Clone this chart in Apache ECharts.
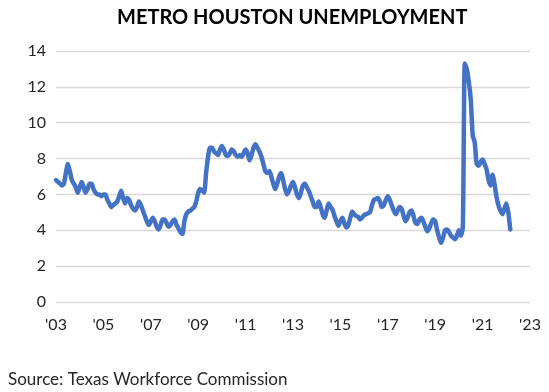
<!DOCTYPE html>
<html><head><meta charset="utf-8">
<script src="https://cdn.jsdelivr.net/npm/echarts@6/dist/echarts.min.js"></script>
<style>html,body{margin:0;padding:0;background:#fff;}#c{width:549px;height:392px;}</style>
</head><body><div id="c"></div>
<script>
const titleText = "METRO HOUSTON UNEMPLOYMENT";
const sourceText = "Source: Texas Workforce Commission";
const startYear = 2003; // monthly series, first point = Jan 2003
const yTicks = [0, 2, 4, 6, 8, 10, 12, 14];
const xTickYears = [2003, 2005, 2007, 2009, 2011, 2013, 2015, 2017, 2019, 2021, 2023];
const rate2003 = [6.8, 6.7, 6.6, 6.5, 6.6, 7.2, 7.7, 7.3, 6.8, 6.6, 6.4, 6.1];
const rate2004 = [6.4, 6.7, 6.4, 6.1, 6.3, 6.6, 6.6, 6.3, 6.1, 6.0, 6.0, 5.9];
const rate2005 = [6.0, 6.0, 5.7, 5.5, 5.3, 5.4, 5.5, 5.6, 5.9, 6.2, 5.8, 5.5];
const rate2006 = [5.8, 5.7, 5.4, 5.2, 5.1, 5.3, 5.6, 5.4, 5.1, 4.8, 4.5, 4.3];
const rate2007 = [4.5, 4.7, 4.5, 4.2, 4.05, 4.3, 4.6, 4.6, 4.4, 4.2, 4.3, 4.5];
const rate2008 = [4.6, 4.3, 4.1, 3.9, 3.8, 4.5, 4.9, 5.05, 5.1, 5.2, 5.3, 5.6];
const rate2009 = [6.1, 6.3, 6.2, 6.1, 7.2, 8.1, 8.6, 8.6, 8.4, 8.3, 8.2, 8.5];
const rate2010 = [8.7, 8.5, 8.2, 8.15, 8.3, 8.5, 8.4, 8.2, 8.1, 8.2, 8.1, 8.3];
const rate2011 = [8.5, 8.3, 7.9, 8.2, 8.6, 8.8, 8.6, 8.4, 8.1, 7.7, 7.3, 7.2];
const rate2012 = [7.3, 7.0, 6.6, 6.3, 6.6, 7.0, 7.2, 6.8, 6.3, 6.0, 6.2, 6.5];
const rate2013 = [6.7, 6.4, 6.0, 5.8, 6.1, 6.5, 6.6, 6.4, 6.2, 5.9, 5.6, 5.3];
const rate2014 = [5.3, 5.6, 5.3, 4.9, 4.7, 5.1, 5.5, 5.3, 5.15, 4.8, 4.5, 4.25];
const rate2015 = [4.5, 4.7, 4.4, 4.15, 4.3, 4.7, 5.05, 4.9, 4.8, 4.75, 4.6, 4.7];
const rate2016 = [4.85, 4.9, 4.95, 5.0, 5.4, 5.7, 5.75, 5.8, 5.6, 5.3, 5.4, 5.7];
const rate2017 = [5.9, 5.7, 5.4, 5.1, 4.9, 5.1, 5.3, 5.2, 4.8, 4.5, 4.7, 5.0];
const rate2018 = [5.1, 4.8, 4.4, 4.35, 4.6, 4.7, 4.5, 4.2, 3.95, 4.1, 4.4, 4.6];
const rate2019 = [4.5, 4.0, 3.6, 3.3, 3.6, 4.0, 4.05, 3.9, 3.7, 3.6, 3.5, 3.7];
const rate2020 = [4.0, 3.7, 4.2, 13.3, 13.0, 12.3, 11.3, 9.3, 8.9, 7.7, 7.6, 7.8];
const rate2021 = [7.95, 7.7, 7.4, 6.8, 6.5, 7.1, 6.6, 5.9, 5.4, 5.1, 4.9, 5.2];
const rate2022 = [5.5, 5.0, 4.05];

const allRates = [].concat(rate2003, rate2004, rate2005, rate2006, rate2007, rate2008,
  rate2009, rate2010, rate2011, rate2012, rate2013, rate2014, rate2015, rate2016,
  rate2017, rate2018, rate2019, rate2020, rate2021, rate2022);
const seriesData = allRates.map((v, i) => [startYear + i / 12, v]);

const chart = echarts.init(document.getElementById('c'), null, {renderer: 'canvas'});
const font = 'Lato, "Open Sans", sans-serif';
chart.setOption({
  animation: false,
  backgroundColor: '#ffffff',
  title: [{
    text: titleText, left: 112, top: 3,
    textStyle: {fontFamily: font, fontWeight: 'bold', fontSize: 20, color: '#000000'}
  }, {
    text: sourceText, left: 3, top: 366,
    textStyle: {fontFamily: font, fontWeight: 'normal', fontSize: 17, color: '#262626'}
  }],
  grid: {left: 56, right: 19, top: 51, bottom: 90, containLabel: false},
  xAxis: {
    type: 'value', min: xTickYears[0], max: xTickYears[xTickYears.length - 1], interval: 2,
    axisLine: {show: false}, axisTick: {show: false}, splitLine: {show: false},
    axisLabel: {
      margin: 15, fontFamily: font, fontSize: 16, color: '#262626',
      formatter: v => "'" + String(Math.round(v)).slice(2)
    }
  },
  yAxis: {
    type: 'value', min: yTicks[0], max: yTicks[yTicks.length - 1], interval: 2,
    axisLine: {show: false}, axisTick: {show: false},
    splitLine: {lineStyle: {color: '#d9d9d9', width: 1.3}},
    axisLabel: {margin: 10, fontFamily: font, fontSize: 16, color: '#262626'}
  },
  series: [{
    type: 'line', data: seriesData, showSymbol: false, smooth: 0.25,
    lineStyle: {color: '#4472C4', width: 4.5, cap: 'round', join: 'round'}
  }]
});
</script></body></html>
